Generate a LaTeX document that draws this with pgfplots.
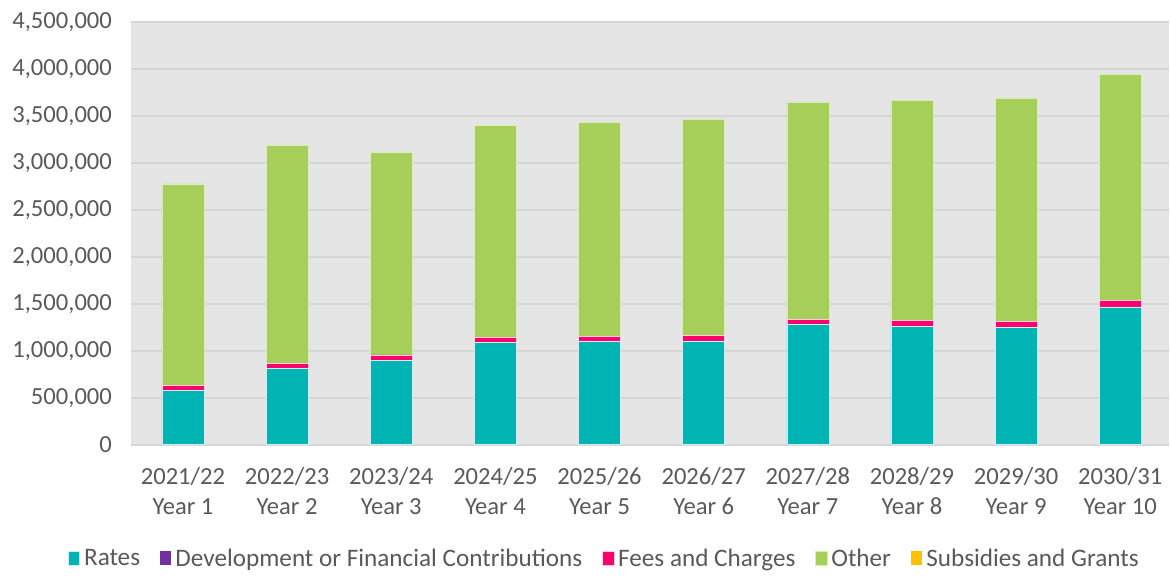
\documentclass[border=0pt]{standalone}
\usepackage{fontspec}
\setmainfont{Carlito}
\usepackage{pgfplots}
\pgfplotsset{compat=1.18}
\definecolor{rates}{HTML}{00B4B4}
\definecolor{devc}{HTML}{7030A0}
\definecolor{fees}{HTML}{FF006E}
\definecolor{other}{HTML}{A5CF58}
\definecolor{subs}{HTML}{FFC000}
\definecolor{txt}{HTML}{595959}
\definecolor{bg}{HTML}{E5E5E5}
\definecolor{gridc}{HTML}{D6D6D6}

\pgfplotstableread{
x rates dev fees other subs
0 574000  0 54000 2149000 0
1 812000  0 53000 2323000 0
2 901000  0 56000 2157000 0
3 1092000 0 54000 2255000 0
4 1099000 0 53000 2281000 0
5 1106000 0 57000 2298000 0
6 1277000 0 56000 2316000 0
7 1259000 0 63000 2341000 0
8 1252000 0 60000 2379000 0
9 1468000 0 67000 2409000 0
}\revenue

\begin{document}
\begin{tikzpicture}
\begin{axis}[
  width=519.5pt, height=211.5pt, scale only axis,
  xmin=-0.5, xmax=9.47, ymin=0, ymax=4500000,
  ybar stacked, bar width=21pt,
  axis background/.style={fill=bg},
  axis line style={draw=none},
  ymajorgrids, grid style={gridc, line width=0.8pt},
  major tick length=0pt,
  ytick={0,500000,...,4500000},
  scaled y ticks=false,
  /pgf/number format/fixed,
  /pgf/number format/1000 sep={,},
  /pgf/number format/assume math mode=true,
  yticklabel style={font=\fontsize{12.3}{13}\selectfont, text=txt, xshift=-6pt},
  xtick={0,...,9},
  xticklabels={{2021/22\\Year 1},{2022/23\\Year 2},{2023/24\\Year 3},{2024/25\\Year 4},{2025/26\\Year 5},{2026/27\\Year 6},{2027/28\\Year 7},{2028/29\\Year 8},{2029/30\\Year 9},{2030/31\\Year 10}},
  xticklabel style={font=\fontsize{12.3}{15}\selectfont, text=txt, align=center, yshift=-8pt},
  legend style={at={(0.457,-0.27)}, anchor=center, draw=none, fill=none,
    font=\fontsize{12.6}{13}\selectfont, text=txt, legend columns=5,
    /tikz/every even column/.append style={column sep=8pt}},
  legend image code/.code={\fill[#1] (0cm,-0.11cm) rectangle (0.2cm,0.14cm);},
  clip=false,
]
\addplot[fill=rates, draw=white!80!rates, line width=0.3pt] table[x=x, y=rates] {\revenue};
\addlegendentry{Rates}
\addplot[fill=devc, draw=none] table[x=x, y=dev] {\revenue};
\addlegendentry{Development or Financial Contributions}
\addplot[fill=fees, draw=white!80!fees, line width=0.3pt] table[x=x, y=fees] {\revenue};
\addlegendentry{Fees and Charges}
\addplot[fill=other, draw=white!60!other, line width=0.3pt] table[x=x, y=other] {\revenue};
\addlegendentry{Other}
\addplot[fill=subs, draw=none] table[x=x, y=subs] {\revenue};
\addlegendentry{Subsidies and Grants}
\coordinate (bl) at (rel axis cs:0,0);
\end{axis}
\path (bl) ++(-65.5pt,-61.5pt) rectangle ++(585pt,284pt);
\end{tikzpicture}
\end{document}
